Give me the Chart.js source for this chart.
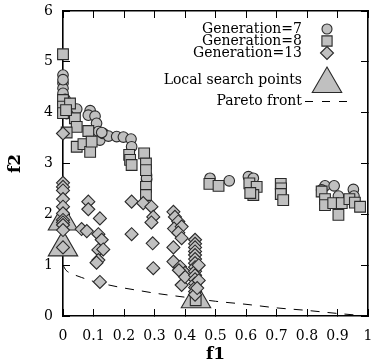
<!DOCTYPE html>
<html><head><meta charset="utf-8">
<script src="https://cdn.jsdelivr.net/npm/chart.js@4/dist/chart.umd.min.js"></script>
<style>html,body{margin:0;padding:0;background:#fff}#wrap{width:375px;height:363px;position:relative}</style>
</head><body><div id="wrap"><canvas id="c" width="375" height="363"></canvas></div>
<script>
// ---- data ----
const gen7X = [0, 0, 0, 0, 0.007, 0.023, 0.045, 0.089, 0.083, 0.105, 0.11, 0.116, 0.121, 0.132, 0.149, 0.176, 0.198, 0.223, 0.225, 0.127, 0.274, 0.274, 0.274, 0.482, 0.545, 0.608, 0.624, 0.859, 0.889, 0.848, 0.903, 0.952, 0.954, 0.985, 1.0, 0.99, 0.0, 0.01, 0.012, 0.995];
const gen7Y = [4.74, 4.58, 4.48, 4.38, 4.26, 4.05, 4.07, 4.04, 3.95, 3.93, 3.79, 3.63, 3.46, 3.59, 3.54, 3.53, 3.52, 3.48, 3.33, 3.61, 2.77, 2.68, 2.71, 2.71, 2.66, 2.74, 2.71, 2.56, 2.56, 2.48, 2.36, 2.49, 2.36, 2.32, 2.22, 2.15, 4.65, 4.15, 3.98, 2.30];

const gen8X = [0, 0, 0, 0, 0.023, 0.039, 0.045, 0.012, 0.083, 0.045, 0.067, 0.089, 0.094, 0.217, 0.22, 0.225, 0.266, 0.272, 0.272, 0.272, 0.272, 0.48, 0.51, 0.611, 0.635, 0.624, 0.614, 0.714, 0.715, 0.714, 0.722, 0.848, 0.859, 0.859, 0.886, 0.914, 0.903, 0.939, 0.957, 0.974, 0.98, 0.995, 0.435, 0.01];
const gen8Y = [5.15, 4.25, 4.12, 3.99, 4.18, 3.89, 3.72, 3.61, 3.64, 3.33, 3.38, 3.23, 3.43, 3.17, 3.07, 2.97, 3.2, 3.0, 2.87, 2.54, 2.38, 2.6, 2.56, 2.61, 2.54, 2.38, 2.42, 2.6, 2.51, 2.4, 2.28, 2.45, 2.3, 2.18, 2.22, 2.22, 1.99, 2.3, 2.23, 2.15, 2.09, 2.09, 0.31, 4.05];

const gen13X = [0, 0, 0, 0, 0, 0, 0, 0, 0, 0, 0, 0,
  0.083, 0.083, 0.121, 0.061, 0.078, 0.116, 0.127, 0.116, 0.132, 0.116, 0.11, 0.121,
  0.225, 0.263, 0.29, 0.296, 0.29, 0.225, 0.294, 0.296,
  0.362, 0.367, 0.378, 0.364, 0.389, 0.378, 0.389, 0.362, 0.362, 0.384, 0.4, 0.389, 0.4, 0.38,
  0.433, 0.433, 0.433, 0.433, 0.433, 0.433, 0.433, 0.433, 0.433, 0.433, 0.433, 0.433, 0.433, 0.433, 0.433,
  0.445, 0.445, 0.44, 1.0, 1.0];
const gen13Y = [3.59, 2.62, 2.54, 2.47, 2.30, 2.15, 2.02, 1.89, 1.84, 1.79, 1.69, 1.35,
  2.25, 2.10, 1.92, 1.71, 1.67, 1.61, 1.50, 1.30, 1.31, 1.10, 1.05, 0.67,
  2.25, 2.22, 2.15, 1.95, 1.84, 1.61, 1.43, 0.94,
  2.05, 1.95, 1.86, 1.72, 1.76, 1.64, 1.53, 1.35, 1.07, 0.97, 0.85, 0.61, 0.77, 0.90,
  1.50, 1.42, 1.35, 1.27, 1.20, 1.12, 1.04, 0.96, 0.88, 0.80, 0.72, 0.64, 0.56, 0.48, 0.42,
  1.00, 0.70, 0.55, 0.74, 0.61];

const localX = [0, 0, 0.436];
const localY = [1.86, 1.35, 0.33];

const paretoX = [0, 0.01, 0.03, 0.06, 0.1, 0.15, 0.2, 0.25, 0.3, 0.4, 0.5, 0.6, 0.7, 0.8, 0.9, 1];
const paretoY = [1.0, 0.9, 0.83, 0.76, 0.68, 0.61, 0.55, 0.5, 0.45, 0.37, 0.29, 0.23, 0.16, 0.11, 0.05, 0];

const seriesLabels = ['Generation=7', 'Generation=8', 'Generation=13', 'Local search points', 'Pareto front'];
const xTickValues = [0, 0.1, 0.2, 0.3, 0.4, 0.5, 0.6, 0.7, 0.8, 0.9, 1];
const yTickValues = [0, 1, 2, 3, 4, 5, 6];

// ---- build ----
const pts = (xs, ys) => xs.map((x, i) => ({x, y: ys[i]}));
const FILL = '#c0c0c0', EDGE = '#2a2a2a';
const FONT = '"DejaVu Serif", "Liberation Serif", serif';

Chart.defaults.font.family = FONT;
Chart.defaults.font.size = 14;
Chart.defaults.color = '#000';

const marker = (style, r) => ({
  pointStyle: style, pointRadius: r, pointHoverRadius: r,
  pointBackgroundColor: FILL, pointBorderColor: EDGE, pointBorderWidth: 1.1,
  showLine: false, clip: false
});

const datasets = [
  Object.assign({label: seriesLabels[2], data: pts(gen13X, gen13Y), order: 1}, marker('rectRot', 6.5)),
  Object.assign({label: seriesLabels[1], data: pts(gen8X, gen8Y), order: 2}, marker('rect', 7.6)),
  Object.assign({label: seriesLabels[0], data: pts(gen7X, gen7Y), order: 3}, marker('circle', 5.3)),
  Object.assign({label: seriesLabels[3], data: pts(localX, localY), order: 4}, marker('triangle', 17)),
  {label: seriesLabels[4], data: pts(paretoX, paretoY), order: 5, showLine: true, pointRadius: 0,
   borderColor: '#000', borderWidth: 1, borderDash: [9, 8], cubicInterpolationMode: 'monotone', clip: false, fill: false}
];

function seg(ctx, x1, y1, x2, y2) {
  ctx.beginPath(); ctx.moveTo(x1, y1); ctx.lineTo(x2, y2); ctx.stroke();
}

// Plot box: left 63, right 368, top 11, bottom 316 (as in the reference)
const BOX = {left: 63, right: 368, top: 11, bottom: 316};

const areaPlugin = {
  id: 'fixArea',
  afterLayout(chart) {
    try {
      const s = chart.scales;
      s.x.left = BOX.left; s.x.right = BOX.right; s.x.width = BOX.right - BOX.left;
      s.x.top = BOX.bottom; s.x.bottom = chart.height; s.x.height = chart.height - BOX.bottom;
      s.x.configure();
      s.x2.left = BOX.left; s.x2.right = BOX.right; s.x2.width = BOX.right - BOX.left;
      s.x2.top = BOX.top; s.x2.bottom = BOX.top; s.x2.height = 0;
      s.x2.configure();
      s.y.top = BOX.top; s.y.bottom = BOX.bottom; s.y.height = BOX.bottom - BOX.top;
      s.y.left = 0; s.y.right = BOX.left; s.y.width = BOX.left;
      s.y.configure();
      s.y2.top = BOX.top; s.y2.bottom = BOX.bottom; s.y2.height = BOX.bottom - BOX.top;
      s.y2.left = BOX.right; s.y2.right = BOX.right; s.y2.width = 0;
      s.y2.configure();
    } catch (e) { /* keep library layout */ }
  }
};

const legendPlugin = {
  id: 'sideLegend',
  afterDraw(chart) {
    const ctx = chart.ctx;
    const ds = chart.data.datasets;
    const byLabel = l => ds.find(d => d.label === l);
    const rows = [
      {label: seriesLabels[0], y: 29},
      {label: seriesLabels[1], y: 41},
      {label: seriesLabels[2], y: 53},
      {label: seriesLabels[3], y: 80},
      {label: seriesLabels[4], y: 101}
    ];
    const tx = 302, sx = 327;
    ctx.save();
    ctx.font = '14px ' + FONT;
    ctx.textAlign = 'right';
    ctx.textBaseline = 'middle';
    ctx.fillStyle = '#000';
    rows.forEach(r => {
      const d = byLabel(r.label);
      ctx.fillText(r.label, tx, r.y);
      if (d.showLine) {
        ctx.save();
        ctx.strokeStyle = d.borderColor; ctx.lineWidth = d.borderWidth;
        [[305, 313], [322, 330], [339, 347]].forEach(s => seg(ctx, s[0], r.y + 0.5, s[1], r.y + 0.5));
        ctx.restore();
      } else {
        ctx.save();
        ctx.fillStyle = d.pointBackgroundColor; ctx.strokeStyle = d.pointBorderColor;
        ctx.lineWidth = d.pointBorderWidth;
        let rad = d.pointRadius;
        let yy = r.y;
        if (d.pointStyle === 'triangle') { rad = 17; yy = r.y + 4; }
        if (d.pointStyle === 'circle') rad = 5;
        if (d.pointStyle === 'rect') rad = 7.2;
        Chart.helpers.drawPoint(ctx, {pointStyle: d.pointStyle, radius: rad, rotation: 0, borderWidth: d.pointBorderWidth}, sx, yy);
        ctx.restore();
      }
    });
    ctx.restore();
  }
};

// inward tick marks and box edges drawn by the scales themselves
const gridIn = {display: true, drawOnChartArea: false, drawTicks: true, tickLength: -7, color: '#000', lineWidth: 1};
const borderBox = {display: true, color: '#000', width: 1.6};

new Chart(document.getElementById('c'), {
  type: 'scatter',
  data: {datasets},
  plugins: [areaPlugin, legendPlugin],
  options: {
    responsive: false,
    devicePixelRatio: 1,
    animation: false,
    layout: {padding: {top: 11, right: 7, left: 0, bottom: 0}},
    plugins: {legend: {display: false}, tooltip: {enabled: false}},
    scales: {
      x: {
        type: 'linear', position: 'bottom', min: 0, max: 1,
        afterBuildTicks: s => { s.ticks = xTickValues.map(v => ({value: v})); },
        afterFit: s => { s.height = 47; },
        grid: gridIn,
        border: borderBox,
        ticks: {padding: 19, font: {size: 14}, color: '#000', callback: v => String(v)},
        title: {display: true, text: 'f1', font: {size: 17, weight: 'bold'}, padding: {top: 0, bottom: -2}, color: '#000'}
      },
      x2: {
        type: 'linear', position: 'top', axis: 'x', min: 0, max: 1,
        afterBuildTicks: s => { s.ticks = xTickValues.map(v => ({value: v})); },
        afterFit: s => { s.height = 0; },
        grid: gridIn,
        border: borderBox,
        ticks: {display: false}
      },
      y: {
        type: 'linear', position: 'left', min: 0, max: 6,
        afterBuildTicks: s => { s.ticks = yTickValues.map(v => ({value: v})); },
        afterFit: s => { s.width = 63; },
        grid: gridIn,
        border: borderBox,
        ticks: {padding: 17, font: {size: 14}, color: '#000', callback: v => String(v)},
        title: {display: true, text: 'f2', font: {size: 17, weight: 'bold'}, padding: {top: 5, bottom: 0}, color: '#000'}
      },
      y2: {
        type: 'linear', position: 'right', axis: 'y', min: 0, max: 6,
        afterBuildTicks: s => { s.ticks = yTickValues.map(v => ({value: v})); },
        afterFit: s => { s.width = 0; },
        grid: gridIn,
        border: borderBox,
        ticks: {display: false}
      }
    }
  }
});
</script>
</body></html>
